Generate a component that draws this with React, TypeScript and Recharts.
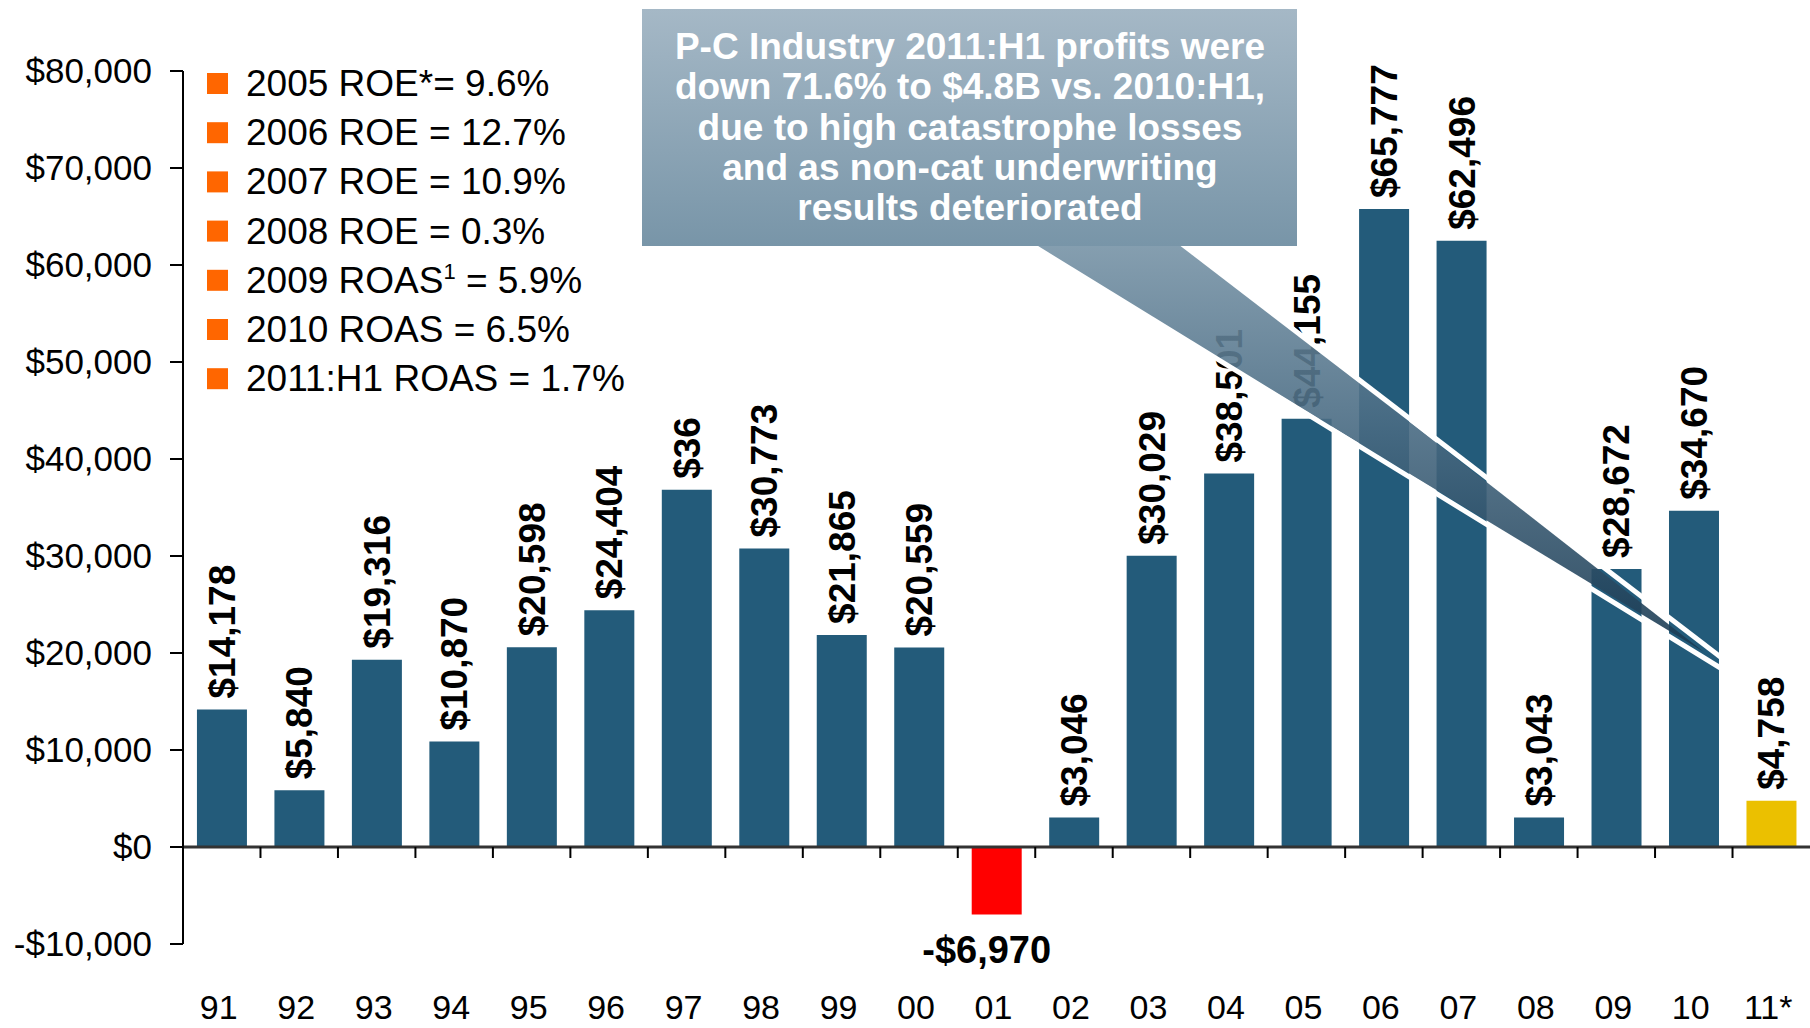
import { Bar, BarChart, Cell, LabelList, ReferenceLine, XAxis, YAxis } from 'recharts';

const years = ['91', '92', '93', '94', '95', '96', '97', '98', '99', '00', '01', '02', '03', '04', '05', '06', '07', '08', '09', '10', '11*'];
const profits = [14178, 5840, 19316, 10870, 20598, 24404, 36819, 30773, 21865, 20559, -6970, 3046, 30029, 38501, 44155, 65777, 62496, 3043, 28672, 34670, 4758];
const valueLabels = ['$14,178', '$5,840', '$19,316', '$10,870', '$20,598', '$24,404', '$36', '$30,773', '$21,865', '$20,559', '-$6,970', '$3,046', '$30,029', '$38,501', '$44,155', '$65,777', '$62,496', '$3,043', '$28,672', '$34,670', '$4,758'];
const yTicks = [-10000, 0, 10000, 20000, 30000, 40000, 50000, 60000, 70000, 80000];
const returnNotes = [
  { year: '2005', label: 'ROE*= 9.6%' },
  { year: '2006', label: 'ROE = 12.7%' },
  { year: '2007', label: 'ROE = 10.9%' },
  { year: '2008', label: 'ROE = 0.3%' },
  { year: '2009', label: 'ROAS', sup: '1', rest: ' = 5.9%' },
  { year: '2010', label: 'ROAS = 6.5%' },
  { year: '2011:H1', label: 'ROAS = 1.7%' },
];
const calloutLines = [
  'P-C Industry 2011:H1 profits were',
  'down 71.6% to $4.8B vs. 2010:H1,',
  'due to high catastrophe losses',
  'and as non-cat underwriting',
  'results deteriorated',
];

const data = years.map((year, i) => ({ year, value: profits[i], label: valueLabels[i] }));

const W = 1810;
const H = 1028;
const TOP = 71;
const AXIS_W = 183;
const XAXIS_H = 84;
const Y_MIN = -10000;
const Y_MAX = 80000;
const plotH = H - TOP - XAXIS_H;
const zeroY = TOP + (plotH * Y_MAX) / (Y_MAX - Y_MIN);
const bandW = (W - AXIS_W) / years.length;

const FONT = '"Liberation Sans", Arial, sans-serif';
const BLUE = '#235b7a';

function barColor(year: string, value: number) {
  if (value < 0) return '#ff0000';
  if (year.endsWith('*')) return '#ebc000';
  return BLUE;
}

function money(v: number) {
  const s = '$' + Math.abs(v).toLocaleString('en-US');
  return v < 0 ? '-' + s : s;
}

// labels sit near the bottom edge; tick marks hang from the zero line at band edges
function YearTick({ x, payload, index }: any) {
  const edge = x + bandW / 2;
  return (
    <g>
      {index < years.length - 1 && (
        <line x1={edge} x2={edge} y1={zeroY} y2={zeroY + 11} stroke="#000" strokeWidth={2} />
      )}
      <text x={x - 3} y={H - 9} textAnchor="middle" fontSize={34} fill="#000" fontFamily={FONT}>
        {payload.value}
      </text>
    </g>
  );
}

function ValueLabel({ x, y, width, height, value }: any) {
  const cx = x + width / 2;
  const top = Math.min(y, y + height);
  const bottom = Math.max(y, y + height);
  const text = value as string;
  if (text.startsWith('-')) {
    return (
      <text x={cx - 10} y={bottom + 48} textAnchor="middle" fontSize={38} fontWeight="bold" fill="#000" fontFamily={FONT}>
        {text}
      </text>
    );
  }
  const ly = top - 11;
  return (
    <text
      x={cx}
      y={ly}
      dy="0.35em"
      transform={`rotate(-90, ${cx}, ${ly})`}
      textAnchor="start"
      fontSize={37}
      fontWeight="bold"
      fill="#000"
      fontFamily={FONT}
    >
      {text}
    </text>
  );
}

function Overlay() {
  const tip = { x: 1704, y: 652 };
  const baseL = { x: 1030, y: 244 };
  const baseR = { x: 1182, y: 244 };
  return (
    <svg width={W} height={H} style={{ position: 'absolute', left: 0, top: 0, pointerEvents: 'none' }}>
      <defs>
        <linearGradient id="boxFill" x1="0" y1="0" x2="0" y2="1">
          <stop offset="0%" stopColor="#a5b8c6" />
          <stop offset="100%" stopColor="#7895a8" />
        </linearGradient>
        <linearGradient id="tailFill" gradientUnits="userSpaceOnUse" x1="0" y1={244} x2="0" y2={660}>
          <stop offset="0%" stopColor="#7894a7" />
          <stop offset="45%" stopColor="#486a82" />
          <stop offset="100%" stopColor="#183850" />
        </linearGradient>
      </defs>

      <polygon
        points={`${baseL.x},${baseL.y} ${baseR.x},${baseR.y} ${tip.x},${tip.y}`}
        fill="url(#tailFill)"
        fillOpacity={0.9}
      />
      <line x1={baseL.x} y1={baseL.y} x2={1727} y2={672} stroke="#fff" strokeWidth={5} />
      <line x1={baseR.x} y1={baseR.y} x2={1727} y2={662} stroke="#fff" strokeWidth={5} />
      <rect x={642} y={9} width={655} height={237} fill="url(#boxFill)" />
      {calloutLines.map((line, i) => (
        <text
          key={line}
          x={970}
          y={59 + i * 40.25}
          textAnchor="middle"
          fontSize={37}
          fontWeight="bold"
          fill="#fff"
          fontFamily={FONT}
        >
          {line}
        </text>
      ))}

      {returnNotes.map((n, i) => {
        const base = 96 + i * 49.2;
        return (
          <g key={n.year}>
            <rect x={207} y={base - 23} width={21} height={21} fill="#ff6600" />
            <text x={246} y={base} fontSize={37} fill="#000" fontFamily={FONT}>
              {n.year} {n.label}
              {n.sup && (
                <>
                  <tspan dy={-14} fontSize={22}>
                    {n.sup}
                  </tspan>
                  <tspan dy={14}>{n.rest}</tspan>
                </>
              )}
            </text>
          </g>
        );
      })}
    </svg>
  );
}

export default function App() {
  return (
    <div style={{ position: 'absolute', left: 0, top: 0, width: W, height: H, background: '#fff', fontFamily: FONT }}>
      <BarChart
        width={W}
        height={H}
        data={data}
        margin={{ top: TOP, right: 0, bottom: 0, left: 0 }}
        barCategoryGap="18%"
      >
        <XAxis
          dataKey="year"
          height={XAXIS_H}
          axisLine={false}
          tickLine={false}
          interval={0}
          tick={<YearTick />}
        />
        <YAxis
          width={AXIS_W}
          domain={[Y_MIN, Y_MAX]}
          ticks={yTicks}
          interval={0}
          tickFormatter={money}
          tickSize={13}
          tickMargin={18}
          axisLine={{ stroke: '#000', strokeWidth: 2 }}
          tickLine={{ stroke: '#000', strokeWidth: 2 }}
          tick={{ fontSize: 35, fill: '#000', fontFamily: FONT }}
        />
        <ReferenceLine y={0} stroke="#333" strokeWidth={3} />
        <Bar dataKey="value" isAnimationActive={false}>
          {data.map((d) => (
            <Cell key={d.year} fill={barColor(d.year, d.value)} />
          ))}
          <LabelList dataKey="label" content={<ValueLabel />} />
        </Bar>
      </BarChart>
      <Overlay />
    </div>
  );
}
